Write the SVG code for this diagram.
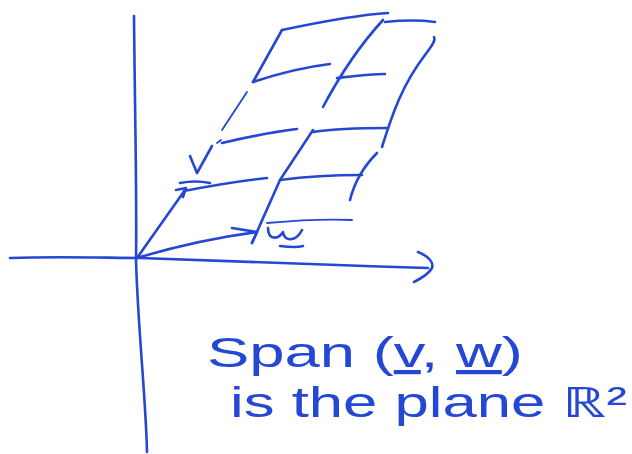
<svg xmlns="http://www.w3.org/2000/svg" width="632" height="454" viewBox="0 0 632 454">
<style>
.s{fill:none;stroke:#2447d4;stroke-width:2.6;stroke-linecap:round;stroke-linejoin:round}
.t{stroke-width:1.8}
.lbl{font-family:"Liberation Sans",Arial,sans-serif;fill:#2447d4;font-size:42px}
</style>
<rect width="632" height="454" fill="#fff"/>
<g id="axes">
<path class="s" d="M134,16 C135,120 137,200 136,260 C138,330 146,400 147,452"/>
<path class="s" d="M10,258 C60,256 110,258 140,258 C230,262 330,265 428,268"/>
<path class="s" d="M418,252 C428,256 434,262 432,268 C428,275 420,279 414,282"/>
</g>
<g id="vectors">
<path class="s" d="M137,258 L185,190"/>
<path class="s" d="M176,190 L186,188 L183,197"/>
<path class="s" d="M180,183 C190,181 200,181 210,183"/>
<path class="s" d="M190,156 L197,173 L212,146"/>
<path class="s" d="M137,258 C180,245 220,237 257,232"/>
<path class="s" d="M232,228 L257,232 L252,243"/>
<path class="s" d="M268,228 C268,240 278,240 283,232 C284,242 296,242 302,230"/>
<path class="s" d="M280,246 C288,247 296,248 303,246"/>
</g>
<g id="grid">
<path class="s t" d="M217,143 L221,140"/>
<path class="s t" d="M222,130 L247,92"/>
<path class="s" d="M253,82 L282,30"/>
<path class="s" d="M184,191 C210,186 240,181 267,178"/>
<path class="s" d="M222,143 C248,137 272,132 297,129"/>
<path class="s" d="M253,82 C280,73 305,67 330,64"/>
<path class="s" d="M282,30 C320,22 355,15 388,13"/>
<path class="s" d="M252,243 L280,180 L313,130"/>
<path class="s" d="M323,107 C340,75 360,45 383,20"/>
<path class="s" d="M280,180 C310,176 340,175 362,175"/>
<path class="s" d="M313,132 C340,128 365,128 387,128"/>
<path class="s" d="M337,78 C355,76 370,74 385,74"/>
<path class="s" d="M385,22 C405,20 420,20 435,22"/>
<path class="s" d="M350,200 C355,180 365,165 377,153"/>
<path class="s" d="M382,147 C392,115 402,85 425,55 C432,46 436,40 434,37"/>
<path class="s t" d="M267,223 C300,220 330,219 352,220"/>
</g>
<g id="caption">
<text class="lbl" x="207" y="367" textLength="316" lengthAdjust="spacingAndGlyphs">Span (<tspan text-decoration="underline">v</tspan>, <tspan text-decoration="underline">w</tspan>)</text>
<text class="lbl" x="230" y="417" textLength="397" lengthAdjust="spacingAndGlyphs">is the plane ℝ²</text>
</g>
</svg>
